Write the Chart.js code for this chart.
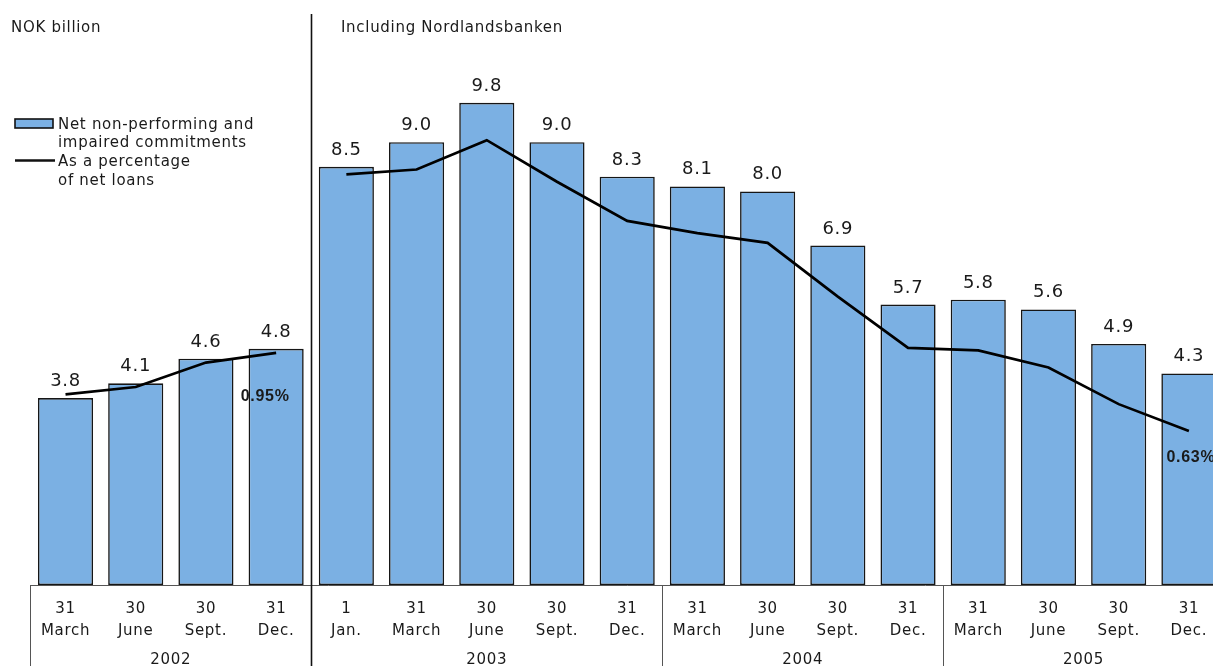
<!DOCTYPE html>
<html>
<head>
<meta charset="utf-8">
<script src="https://cdn.jsdelivr.net/npm/chart.js@4.4.1/dist/chart.umd.min.js"></script>
<style>
  html, body { margin: 0; padding: 0; background: #fff; overflow: hidden; }
  #wrap { width: 1213px; height: 666px; overflow: hidden; position: relative; }
  canvas { display: block; }
</style>
</head>
<body>
<div id="wrap"><canvas id="chart" width="1224" height="666"></canvas></div>
<script>
// --- DATA ---
const dayLabels = ['31', '30', '30', '31', '1', '31', '30', '30', '31', '31', '30', '30', '31', '31', '30', '30', '31'];
const monthLabels = ['March', 'June', 'Sept.', 'Dec.', 'Jan.', 'March', 'June', 'Sept.', 'Dec.', 'March', 'June', 'Sept.', 'Dec.', 'March', 'June', 'Sept.', 'Dec.'];
const years = ['2002', '2003', '2004', '2005'];
const quartersPerYear = [4, 5, 4, 4];
const commitments = [3.8, 4.1, 4.6, 4.8, 8.5, 9.0, 9.8, 9.0, 8.3, 8.1, 8.0, 6.9, 5.7, 5.8, 5.6, 4.9, 4.3];
const pctBefore = [0.78, 0.81, 0.91, 0.95, null, null, null, null, null, null, null, null, null, null, null, null, null];
const pctIncluding = [null, null, null, null, 1.68, 1.70, 1.82, 1.65, 1.49, 1.44, 1.40, 1.18, 0.97, 0.96, 0.89, 0.74, 0.63];
const pctNotes = ['0.95%', '0.63%'];

const BLUE = '#7bb0e3';
const INK = '#1a1a1a';
const FONT = '"DejaVu Sans", Verdana, sans-serif';

// Titles, legend, value labels and year grouping
const decorations = {
    id: 'decorations',
    beforeDraw(chart) {
        chart.ctx.letterSpacing = '0.7px';
    },
    afterDatasetsDraw(chart) {
        const ctx = chart.ctx;
        const x = chart.scales.x;
        const area = chart.chartArea;
        const bars = chart.getDatasetMeta(2).data;
        const left = chart.getDatasetMeta(0).data;
        const right = chart.getDatasetMeta(1).data;

        ctx.save();
        ctx.fillStyle = INK;
        ctx.textBaseline = 'alphabetic';

        // headings
        ctx.font = '15px ' + FONT;
        ctx.textAlign = 'left';
        ctx.fillText('NOK billion', 11, 31.5);
        ctx.fillText('Including Nordlandsbanken', 341, 31.5);

        // legend
        ctx.fillStyle = BLUE;
        ctx.fillRect(15, 119, 38, 9);
        ctx.strokeStyle = '#111';
        ctx.lineWidth = 1.6;
        ctx.strokeRect(15, 119, 38, 9);
        ctx.beginPath();
        ctx.lineWidth = 2.7;
        ctx.moveTo(15, 160.5);
        ctx.lineTo(55, 160.5);
        ctx.stroke();
        ctx.fillStyle = INK;
        ctx.fillText('Net non-performing and', 58, 128.5);
        ctx.fillText('impaired commitments', 58, 147.3);
        ctx.fillText('As a percentage', 58, 166);
        ctx.fillText('of net loans', 58, 184.8);

        // value labels above bars
        ctx.font = '18px ' + FONT;
        ctx.textAlign = 'center';
        bars.forEach((bar, i) => {
            ctx.fillText(commitments[i].toFixed(1), bar.x, bar.y - 12);
        });

        // percentage notes at the end of each line
        ctx.font = 'bold 16px "Liberation Sans", Arial, sans-serif';
        const endLeft = left[3];
        const endRight = right[right.length - 1];
        ctx.fillText(pctNotes[0], endLeft.x - 11, endLeft.y + 48);
        ctx.fillText(pctNotes[1], endRight.x + 2, endRight.y + 31);

        // axis frame and year separators
        const half = (x.getPixelForValue(1) - x.getPixelForValue(0)) / 2;
        ctx.strokeStyle = '#555';
        ctx.lineWidth = 1;
        ctx.beginPath();
        ctx.moveTo(area.left, area.bottom + 0.5);
        ctx.lineTo(area.right, area.bottom + 0.5);
        ctx.stroke();

        ctx.font = '15px ' + FONT;
        let start = 0;
        quartersPerYear.forEach((n, k) => {
            const x0 = x.getPixelForValue(start) - half;
            const x1 = x.getPixelForValue(start + n - 1) + half;
            ctx.strokeStyle = k === 1 ? '#111' : '#555';
            ctx.lineWidth = k === 1 ? 1.6 : 1;
            ctx.beginPath();
            ctx.moveTo(Math.round(x0) + 0.5, k === 1 ? 14 : area.bottom);
            ctx.lineTo(Math.round(x0) + 0.5, chart.height);
            ctx.stroke();
            ctx.fillText(years[k], (x0 + x1) / 2, 664);
            start += n;
        });
        ctx.restore();
    }
};

new Chart(document.getElementById('chart'), {
    data: {
        labels: dayLabels.map((d, i) => [d, monthLabels[i]]),
        datasets: [
            {
                type: 'line',
                data: pctBefore,
                yAxisID: 'y2',
                borderColor: '#000',
                borderWidth: 2.7,
                pointRadius: 0,
                tension: 0,
                spanGaps: false,
                order: 1
            },
            {
                type: 'line',
                data: pctIncluding,
                yAxisID: 'y2',
                borderColor: '#000',
                borderWidth: 2.7,
                pointRadius: 0,
                tension: 0,
                spanGaps: false,
                order: 1
            },
            {
                type: 'bar',
                data: commitments,
                yAxisID: 'y',
                backgroundColor: BLUE,
                borderColor: '#161616',
                borderWidth: 1.6,
                borderSkipped: false,
                barPercentage: 0.785,
                categoryPercentage: 1,
                order: 2
            }
        ]
    },
    options: {
        responsive: false,
        animation: false,
        devicePixelRatio: 1,
        layout: { padding: { left: 30.4, right: 0, top: 19.2, bottom: 0 } },
        plugins: { legend: { display: false }, tooltip: { enabled: false } },
        scales: {
            x: {
                grid: { display: false },
                border: { display: false },
                ticks: {
                    autoSkip: false,
                    maxRotation: 0,
                    padding: 5,
                    color: INK,
                    font: { family: FONT, size: 15, lineHeight: 1.45 }
                },
                afterFit: scale => { scale.height = 81; }
            },
            y: { display: false, min: 0, max: 11.5 },
            y2: { display: false, min: 0, max: 2.315 }
        }
    },
    plugins: [decorations]
});
</script>
</body>
</html>
